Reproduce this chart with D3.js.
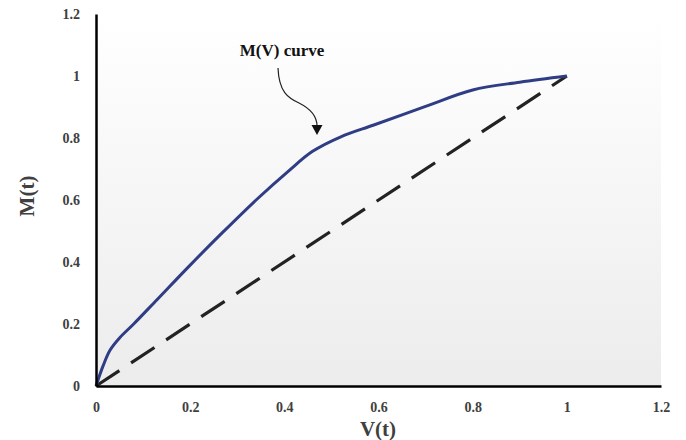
<!DOCTYPE html>
<html>
<head>
<meta charset="utf-8">
<script src="https://cdn.jsdelivr.net/npm/d3@7"></script>
<style>
  body { margin: 0; background: #fff; }
  svg text { font-family: "Liberation Serif", "Times New Roman", serif; font-weight: bold; }
</style>
</head>
<body>
<div id="chart"></div>
<script>
// data
const vValues = [0, 0.015, 0.03, 0.05, 0.08, 0.13, 0.2, 0.27, 0.34, 0.41, 0.46, 0.52, 0.59, 0.7, 0.8, 0.9, 1];
const mValues = [0, 0.065, 0.116, 0.155, 0.2, 0.279, 0.39, 0.497, 0.6, 0.695, 0.757, 0.804, 0.842, 0.902, 0.955, 0.98, 1];
const diagonal = [0, 1];
const xTicks = [0, 0.2, 0.4, 0.6, 0.8, 1, 1.2];
const yTicks = [0, 0.2, 0.4, 0.6, 0.8, 1, 1.2];

const width = 686;
const height = 440;
const margin = { top: 14, right: 25, bottom: 54, left: 96 };

const svg = d3.select('#chart')
  .append('svg')
  .attr('width', width)
  .attr('height', height);

const x = d3.scaleLinear().domain([0, 1.2]).range([margin.left, width - margin.right]);
const y = d3.scaleLinear().domain([0, 1.2]).range([height - margin.bottom, margin.top]);

// background gradient of the plot area
const defs = svg.append('defs');
const grad = defs.append('linearGradient')
  .attr('id', 'bg').attr('x1', 0).attr('y1', 0).attr('x2', 0).attr('y2', 1);
grad.append('stop').attr('offset', '0%').attr('stop-color', '#ffffff');
grad.append('stop').attr('offset', '100%').attr('stop-color', '#ececec');

svg.append('rect')
  .attr('x', x(0)).attr('y', y(1.2))
  .attr('width', x(1.2) - x(0)).attr('height', y(0) - y(1.2))
  .attr('fill', 'url(#bg)');

// dashed reference line
svg.append('line')
  .attr('x1', x(diagonal[0])).attr('y1', y(diagonal[0]))
  .attr('x2', x(diagonal[1])).attr('y2', y(diagonal[1]))
  .attr('stroke', '#222')
  .attr('stroke-width', 3.2)
  .attr('stroke-dasharray', '28,14');

// M(V) curve
const pts = vValues.map((v, i) => [v, mValues[i]]);
svg.append('path')
  .datum(pts)
  .attr('fill', 'none')
  .attr('stroke', '#2f3d85')
  .attr('stroke-width', 3)
  .attr('d', d3.line().x(d => x(d[0])).y(d => y(d[1])).curve(d3.curveCatmullRom.alpha(0.5)));

// axes
const xAxis = svg.append('g')
  .attr('transform', `translate(0,${y(0)})`)
  .call(d3.axisBottom(x).tickValues(xTicks).tickFormat(d3.format('')).tickSize(0).tickPadding(16));
const yAxis = svg.append('g')
  .attr('transform', `translate(${x(0)},0)`)
  .call(d3.axisLeft(y).tickValues(yTicks).tickFormat(d3.format('')).tickSize(0).tickPadding(16));

[xAxis, yAxis].forEach(g => {
  g.select('.domain').attr('stroke', '#000').attr('stroke-width', 2.5);
  g.selectAll('.tick text')
    .attr('fill', '#404040')
    .style('font-size', '14px')
    .style('font-family', '"Liberation Serif", serif')
    .style('font-weight', 'bold');
});

// axis titles
svg.append('text')
  .attr('x', 378).attr('y', 436)
  .attr('text-anchor', 'middle')
  .attr('fill', '#404040')
  .style('font-size', '21px')
  .text('V(t)');

svg.append('text')
  .attr('transform', 'translate(34,196) rotate(-90)')
  .attr('text-anchor', 'middle')
  .attr('fill', '#404040')
  .style('font-size', '21px')
  .text('M(t)');

// annotation
svg.append('text')
  .attr('x', 282).attr('y', 56)
  .attr('text-anchor', 'middle')
  .attr('fill', '#111')
  .style('font-size', '17px')
  .text('M(V) curve');

svg.append('path')
  .attr('d', 'M278,68 C279,92 288,98 299,103 C311,109 317,116 317,126')
  .attr('fill', 'none')
  .attr('stroke', '#222')
  .attr('stroke-width', 1.2);
svg.append('path')
  .attr('d', 'M311.5,125 L322.5,125 L317,135 Z')
  .attr('fill', '#111');
</script>
</body>
</html>
